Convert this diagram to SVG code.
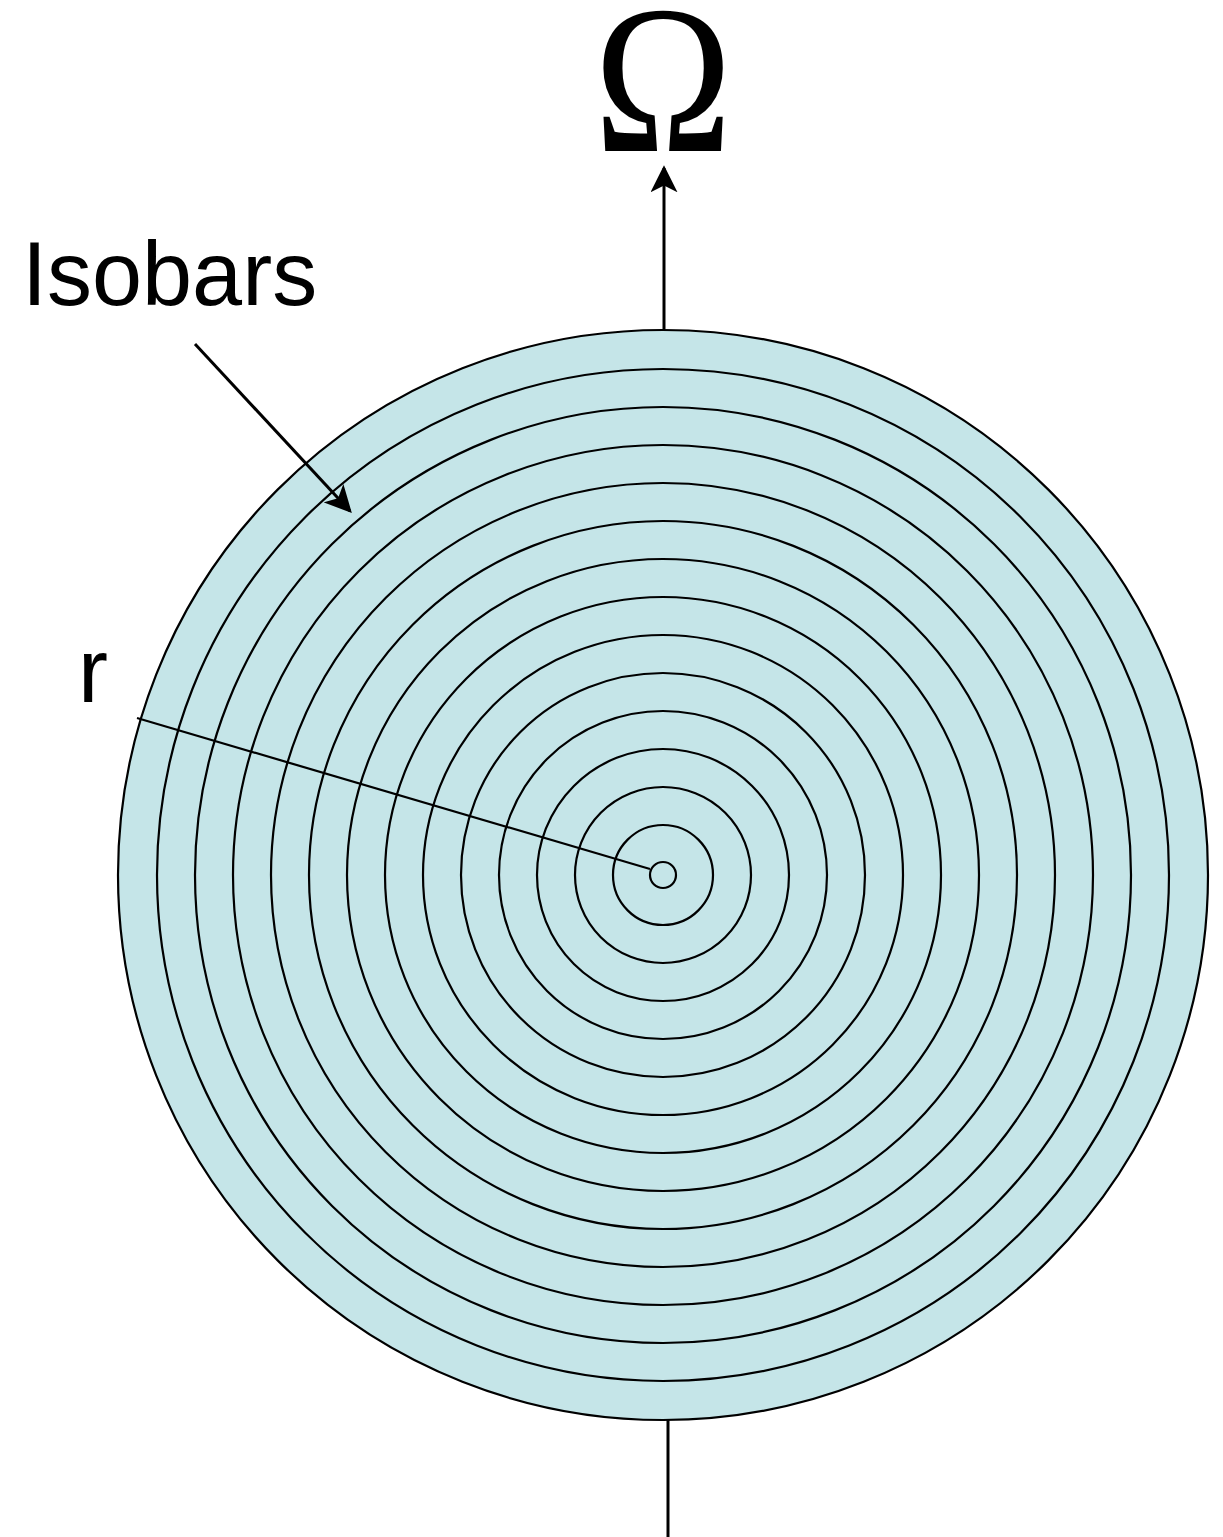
<svg xmlns="http://www.w3.org/2000/svg" width="1223" height="1537" viewBox="0 0 1223 1537">
<defs>
<style>
.iso{fill:none;stroke:#000;stroke-width:2.2}
.ln{stroke:#000;fill:none}
.lbl{font-family:"Liberation Sans",Arial,sans-serif;fill:#000}
</style>
<marker id="ah2" viewBox="0 0 10 10" refX="9" refY="5" markerWidth="9" markerHeight="9" markerUnits="strokeWidth" orient="auto">
<path d="M0,0 L10,5 L0,10 L2.5,5 Z" fill="#000"/>
</marker>
</defs>
<rect width="1223" height="1537" fill="#fff"/>
<g id="disc">
<circle cx="663" cy="875" r="545" fill="#C5E5E8" stroke="#000" stroke-width="2.2"/>
<circle class="iso" cx="663" cy="875" r="506"/>
<circle class="iso" cx="663" cy="875" r="468"/>
<circle class="iso" cx="663" cy="875" r="430"/>
<circle class="iso" cx="663" cy="875" r="392"/>
<circle class="iso" cx="663" cy="875" r="354"/>
<circle class="iso" cx="663" cy="875" r="316"/>
<circle class="iso" cx="663" cy="875" r="278"/>
<circle class="iso" cx="663" cy="875" r="240"/>
<circle class="iso" cx="663" cy="875" r="202"/>
<circle class="iso" cx="663" cy="875" r="164"/>
<circle class="iso" cx="663" cy="875" r="126"/>
<circle class="iso" cx="663" cy="875" r="88"/>
<circle class="iso" cx="663" cy="875" r="50"/>
<circle class="iso" cx="663" cy="875" r="13"/>
</g>
<g id="omega-label"><text transform="translate(663,151) scale(0.88,1)" x="0" y="0" text-anchor="middle" font-family="Liberation Serif,'Times New Roman',serif" font-size="212" fill="#000">Ω</text></g>
<g id="isobars-label"><text class="lbl" x="22" y="305" font-size="90">Isobars</text></g>
<g id="r-label"><text class="lbl" x="78" y="702" font-size="90">r</text></g>
<g id="connectors">
<line class="ln" x1="664" y1="329" x2="664" y2="168" stroke-width="3" marker-end="url(#ah2)"/>
<line class="ln" x1="668" y1="1420" x2="668" y2="1537" stroke-width="3"/>
<line class="ln" x1="195" y1="344" x2="350" y2="511" stroke-width="3" marker-end="url(#ah2)"/>
<line class="ln" x1="137" y1="718" x2="650" y2="869" stroke-width="2.2"/>
</g>
</svg>
